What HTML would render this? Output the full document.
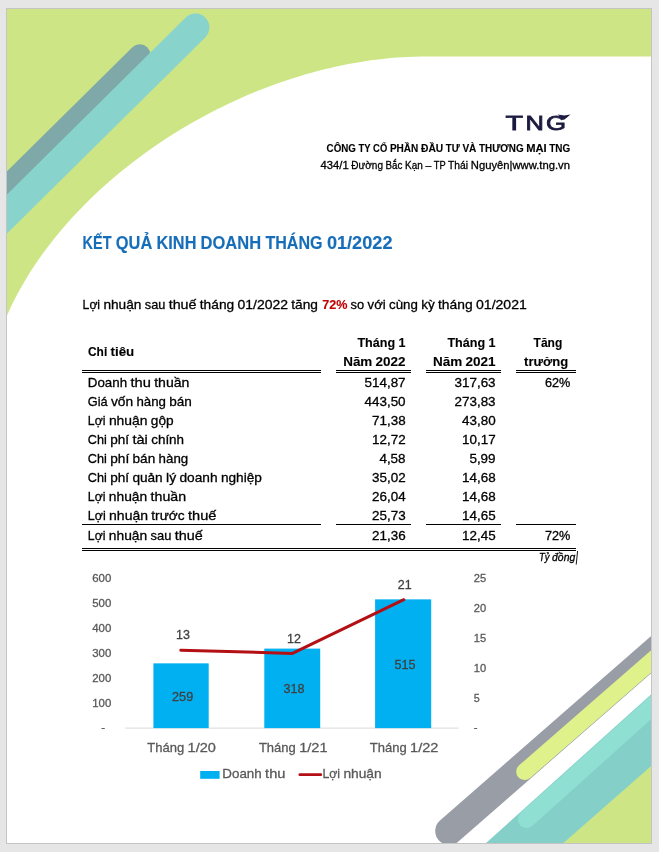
<!DOCTYPE html>
<html lang="vi"><head><meta charset="utf-8"><title>Kết quả kinh doanh tháng 01/2022</title>
<style>
html,body{margin:0;padding:0;background:#e6e6e6;}
body{width:659px;height:852px;overflow:hidden;}
svg{display:block;font-family:"Liberation Sans", sans-serif;}
text{white-space:pre;}
</style></head><body>
<svg width="659" height="852" viewBox="0 0 659 852">
<rect x="0" y="0" width="659" height="852" fill="#e6e6e6"/>
<rect x="6.5" y="8.5" width="645.0" height="835.0" fill="#fff"/>
<clipPath id="pg"><rect x="6.5" y="8.5" width="645.0" height="835.0"/></clipPath>
<g clip-path="url(#pg)">
<path d="M651.5,56.6 L426.5,56.6 L420.5,56.6 L414.5,56.7 L408.5,56.9 L402.5,57.2 L396.5,57.6 L390.5,58.1 L384.5,58.7 L378.5,59.4 L372.5,60.1 L366.5,61.0 L360.5,61.9 L354.5,62.9 L348.5,64.0 L342.5,65.2 L336.5,66.5 L330.5,67.9 L324.5,69.3 L318.5,70.8 L312.5,72.4 L306.5,74.1 L300.5,75.9 L294.5,77.8 L288.5,79.7 L282.5,81.7 L276.5,83.8 L270.5,86.0 L264.5,88.3 L258.5,90.6 L252.5,93.1 L246.5,95.6 L240.5,98.2 L234.5,101.0 L228.5,103.8 L222.5,106.7 L216.5,109.6 L210.5,112.7 L204.5,115.9 L198.5,119.2 L192.5,122.6 L186.5,126.0 L180.5,129.6 L174.5,133.3 L168.5,137.1 L162.5,141.0 L156.5,145.1 L150.5,149.2 L144.5,153.5 L138.5,157.9 L132.5,162.5 L126.5,167.2 L120.5,172.0 L114.5,177.1 L108.5,182.2 L102.5,187.6 L96.5,193.1 L90.5,198.8 L84.5,204.8 L78.5,210.9 L72.5,217.3 L66.5,224.0 L60.5,231.0 L54.5,238.3 L48.5,245.9 L42.5,254.0 L36.5,262.5 L30.5,271.6 L24.5,281.4 L18.5,292.0 L12.5,303.6 L6.5,316.6 L6.5,8.5 L651.5,8.5 Z" fill="#cde585"/>
<line x1="139.8" y1="54.7" x2="-144.5" y2="336.1" stroke="#7fa9a8" stroke-width="21" stroke-linecap="round"/>
<line x1="195.5" y1="27.5" x2="-88.8" y2="308.9" stroke="#88d3cb" stroke-width="27.8" stroke-linecap="round"/>
<line x1="449.2" y1="831.0" x2="750.4" y2="567.8" stroke="#999da6" stroke-width="28" stroke-linecap="round"/>
<line x1="524.6" y1="771.7" x2="750.7" y2="574.5" stroke="#dff18a" stroke-width="16.8" stroke-linecap="round"/>
<polygon points="651.5,693.9 485.5,843.5 651.5,843.5" fill="#84d0c8"/>
<line x1="526.6" y1="819.3" x2="749.6" y2="618.6" stroke="#8fe0d3" stroke-width="17.6" stroke-linecap="round"/>
<polygon points="651.5,765.8 562.9,843.5 651.5,843.5" fill="#cde585"/>
</g>
<rect x="6.5" y="8.5" width="645.0" height="835.0" fill="none" stroke="#c4c4c4" stroke-width="1"/>
<text y="129.7" font-size="20.6" fill="#1b1a40" stroke="#1b1a40" stroke-width="0.8"><tspan x="505.5" textLength="17.5" lengthAdjust="spacingAndGlyphs">T</tspan><tspan x="525.6" textLength="18.4" lengthAdjust="spacingAndGlyphs">N</tspan><tspan x="546.0" textLength="20.0" lengthAdjust="spacingAndGlyphs">G</tspan></text>
<polygon points="557.6,114.6 564.4,115.5 570.4,114.6 567,117.4 564.4,119.6 561.5,117.6" fill="#1b1a40"/>
<text y="151.6" font-size="11" font-weight="bold" fill="#000" stroke="#000" stroke-width="0.12"><tspan x="326.6" textLength="29.3" lengthAdjust="spacingAndGlyphs">CÔNG</tspan> <tspan x="358.6" textLength="11.9" lengthAdjust="spacingAndGlyphs">TY</tspan> <tspan x="373.1" textLength="14.1" lengthAdjust="spacingAndGlyphs">CỔ</tspan> <tspan x="389.9" textLength="28.4" lengthAdjust="spacingAndGlyphs">PHẦN</tspan> <tspan x="421.0" textLength="22.2" lengthAdjust="spacingAndGlyphs">ĐẦU</tspan> <tspan x="445.8" textLength="13.9" lengthAdjust="spacingAndGlyphs">TƯ</tspan> <tspan x="462.4" textLength="14.0" lengthAdjust="spacingAndGlyphs">VÀ</tspan> <tspan x="479.0" textLength="44.6" lengthAdjust="spacingAndGlyphs">THƯƠNG</tspan> <tspan x="526.2" textLength="20.5" lengthAdjust="spacingAndGlyphs">MẠI</tspan> <tspan x="549.3" textLength="21.0" lengthAdjust="spacingAndGlyphs">TNG</tspan></text>
<text y="168.6" font-size="11" fill="#000" stroke="#000" stroke-width="0.3"><tspan x="320.6" textLength="28.1" lengthAdjust="spacingAndGlyphs">434/1</tspan> <tspan x="351.3" textLength="31.7" lengthAdjust="spacingAndGlyphs">Đường</tspan> <tspan x="385.6" textLength="16.8" lengthAdjust="spacingAndGlyphs">Bắc</tspan> <tspan x="405.1" textLength="17.7" lengthAdjust="spacingAndGlyphs">Kạn</tspan> <tspan x="425.4" textLength="5.8" lengthAdjust="spacingAndGlyphs">–</tspan> <tspan x="433.8" textLength="11.7" lengthAdjust="spacingAndGlyphs">TP</tspan> <tspan x="448.1" textLength="20.0" lengthAdjust="spacingAndGlyphs">Thái</tspan> <tspan x="470.8" textLength="99.2" lengthAdjust="spacingAndGlyphs">Nguyên|www.tng.vn</tspan></text>
<text y="248.7" font-size="17.5" font-weight="bold" fill="#166db8" stroke="#166db8" stroke-width="0.12"><tspan x="82.6" textLength="28.9" lengthAdjust="spacingAndGlyphs">KẾT</tspan> <tspan x="115.8" textLength="36.5" lengthAdjust="spacingAndGlyphs">QUẢ</tspan> <tspan x="156.6" textLength="39.8" lengthAdjust="spacingAndGlyphs">KINH</tspan> <tspan x="200.6" textLength="60.5" lengthAdjust="spacingAndGlyphs">DOANH</tspan> <tspan x="265.4" textLength="57.2" lengthAdjust="spacingAndGlyphs">THÁNG</tspan> <tspan x="326.9" textLength="65.6" lengthAdjust="spacingAndGlyphs">01/2022</tspan></text>
<text y="308.6" font-size="13.7" fill="#000" stroke="#000" stroke-width="0.3"><tspan x="82.6" textLength="17.5" lengthAdjust="spacingAndGlyphs">Lợi</tspan> <tspan x="103.4" textLength="38.0" lengthAdjust="spacingAndGlyphs">nhuận</tspan> <tspan x="144.8" textLength="20.6" lengthAdjust="spacingAndGlyphs">sau</tspan> <tspan x="168.7" textLength="27.8" lengthAdjust="spacingAndGlyphs">thuế</tspan> <tspan x="199.8" textLength="34.4" lengthAdjust="spacingAndGlyphs">tháng</tspan> <tspan x="237.5" textLength="50.5" lengthAdjust="spacingAndGlyphs">01/2022</tspan> <tspan x="291.3" textLength="26.7" lengthAdjust="spacingAndGlyphs">tăng</tspan></text>
<text x="322.2" y="308.6" font-size="13.7" font-weight="bold" fill="#c00000" stroke="#c00000" stroke-width="0.12" textLength="25.2" lengthAdjust="spacingAndGlyphs">72%</text>
<text y="308.6" font-size="13.7" fill="#000" stroke="#000" stroke-width="0.3"><tspan x="350.6" textLength="13.6" lengthAdjust="spacingAndGlyphs">so</tspan> <tspan x="367.6" textLength="18.1" lengthAdjust="spacingAndGlyphs">với</tspan> <tspan x="389.0" textLength="28.8" lengthAdjust="spacingAndGlyphs">cùng</tspan> <tspan x="421.2" textLength="13.5" lengthAdjust="spacingAndGlyphs">kỳ</tspan> <tspan x="438.0" textLength="34.6" lengthAdjust="spacingAndGlyphs">tháng</tspan> <tspan x="476.0" textLength="50.8" lengthAdjust="spacingAndGlyphs">01/2021</tspan></text>
<text y="356.2" font-size="13.5" font-weight="bold" fill="#000" stroke="#000" stroke-width="0.12"><tspan x="88.0" textLength="19.2" lengthAdjust="spacingAndGlyphs">Chỉ</tspan> <tspan x="110.5" textLength="23.8" lengthAdjust="spacingAndGlyphs">tiêu</tspan></text>
<text y="387.0" font-size="13.5" fill="#000" stroke="#000" stroke-width="0.3"><tspan x="87.8" textLength="39.3" lengthAdjust="spacingAndGlyphs">Doanh</tspan> <tspan x="130.5" textLength="20.4" lengthAdjust="spacingAndGlyphs">thu</tspan> <tspan x="154.2" textLength="35.2" lengthAdjust="spacingAndGlyphs">thuần</tspan></text>
<text x="364.5" y="387.0" font-size="12.9" fill="#000" stroke="#000" stroke-width="0.3" textLength="41.1" lengthAdjust="spacingAndGlyphs">514,87</text>
<text x="454.5" y="387.0" font-size="12.9" fill="#000" stroke="#000" stroke-width="0.3" textLength="41.1" lengthAdjust="spacingAndGlyphs">317,63</text>
<text x="545.0" y="387.0" font-size="12.9" fill="#000" stroke="#000" stroke-width="0.3" textLength="25.4" lengthAdjust="spacingAndGlyphs">62%</text>
<text y="406.0" font-size="13.5" fill="#000" stroke="#000" stroke-width="0.3"><tspan x="87.8" textLength="19.8" lengthAdjust="spacingAndGlyphs">Giá</tspan> <tspan x="110.9" textLength="22.2" lengthAdjust="spacingAndGlyphs">vốn</tspan> <tspan x="136.4" textLength="29.5" lengthAdjust="spacingAndGlyphs">hàng</tspan> <tspan x="169.2" textLength="22.6" lengthAdjust="spacingAndGlyphs">bán</tspan></text>
<text x="364.5" y="406.0" font-size="12.9" fill="#000" stroke="#000" stroke-width="0.3" textLength="41.1" lengthAdjust="spacingAndGlyphs">443,50</text>
<text x="454.5" y="406.0" font-size="12.9" fill="#000" stroke="#000" stroke-width="0.3" textLength="41.1" lengthAdjust="spacingAndGlyphs">273,83</text>
<text y="424.9" font-size="13.5" fill="#000" stroke="#000" stroke-width="0.3"><tspan x="87.8" textLength="17.7" lengthAdjust="spacingAndGlyphs">Lợi</tspan> <tspan x="108.9" textLength="38.6" lengthAdjust="spacingAndGlyphs">nhuận</tspan> <tspan x="150.8" textLength="22.8" lengthAdjust="spacingAndGlyphs">gộp</tspan></text>
<text x="372.0" y="424.9" font-size="12.9" fill="#000" stroke="#000" stroke-width="0.3" textLength="33.6" lengthAdjust="spacingAndGlyphs">71,38</text>
<text x="462.0" y="424.9" font-size="12.9" fill="#000" stroke="#000" stroke-width="0.3" textLength="33.6" lengthAdjust="spacingAndGlyphs">43,80</text>
<text y="443.9" font-size="13.5" fill="#000" stroke="#000" stroke-width="0.3"><tspan x="87.8" textLength="19.0" lengthAdjust="spacingAndGlyphs">Chi</tspan> <tspan x="110.2" textLength="18.9" lengthAdjust="spacingAndGlyphs">phí</tspan> <tspan x="132.4" textLength="15.4" lengthAdjust="spacingAndGlyphs">tài</tspan> <tspan x="151.2" textLength="32.9" lengthAdjust="spacingAndGlyphs">chính</tspan></text>
<text x="372.0" y="443.9" font-size="12.9" fill="#000" stroke="#000" stroke-width="0.3" textLength="33.6" lengthAdjust="spacingAndGlyphs">12,72</text>
<text x="462.0" y="443.9" font-size="12.9" fill="#000" stroke="#000" stroke-width="0.3" textLength="33.6" lengthAdjust="spacingAndGlyphs">10,17</text>
<text y="462.8" font-size="13.5" fill="#000" stroke="#000" stroke-width="0.3"><tspan x="87.8" textLength="19.1" lengthAdjust="spacingAndGlyphs">Chi</tspan> <tspan x="110.2" textLength="19.0" lengthAdjust="spacingAndGlyphs">phí</tspan> <tspan x="132.5" textLength="22.7" lengthAdjust="spacingAndGlyphs">bán</tspan> <tspan x="158.6" textLength="29.6" lengthAdjust="spacingAndGlyphs">hàng</tspan></text>
<text x="379.4" y="462.8" font-size="12.9" fill="#000" stroke="#000" stroke-width="0.3" textLength="26.2" lengthAdjust="spacingAndGlyphs">4,58</text>
<text x="469.4" y="462.8" font-size="12.9" fill="#000" stroke="#000" stroke-width="0.3" textLength="26.2" lengthAdjust="spacingAndGlyphs">5,99</text>
<text y="481.8" font-size="13.5" fill="#000" stroke="#000" stroke-width="0.3"><tspan x="87.8" textLength="19.0" lengthAdjust="spacingAndGlyphs">Chi</tspan> <tspan x="110.2" textLength="18.9" lengthAdjust="spacingAndGlyphs">phí</tspan> <tspan x="132.4" textLength="30.3" lengthAdjust="spacingAndGlyphs">quản</tspan> <tspan x="166.1" textLength="10.1" lengthAdjust="spacingAndGlyphs">lý</tspan> <tspan x="179.5" textLength="38.1" lengthAdjust="spacingAndGlyphs">doanh</tspan> <tspan x="220.9" textLength="41.0" lengthAdjust="spacingAndGlyphs">nghiệp</tspan></text>
<text x="372.0" y="481.8" font-size="12.9" fill="#000" stroke="#000" stroke-width="0.3" textLength="33.6" lengthAdjust="spacingAndGlyphs">35,02</text>
<text x="462.0" y="481.8" font-size="12.9" fill="#000" stroke="#000" stroke-width="0.3" textLength="33.6" lengthAdjust="spacingAndGlyphs">14,68</text>
<text y="500.8" font-size="13.5" fill="#000" stroke="#000" stroke-width="0.3"><tspan x="87.8" textLength="17.7" lengthAdjust="spacingAndGlyphs">Lợi</tspan> <tspan x="108.8" textLength="38.4" lengthAdjust="spacingAndGlyphs">nhuận</tspan> <tspan x="150.6" textLength="35.5" lengthAdjust="spacingAndGlyphs">thuần</tspan></text>
<text x="372.0" y="500.8" font-size="12.9" fill="#000" stroke="#000" stroke-width="0.3" textLength="33.6" lengthAdjust="spacingAndGlyphs">26,04</text>
<text x="462.0" y="500.8" font-size="12.9" fill="#000" stroke="#000" stroke-width="0.3" textLength="33.6" lengthAdjust="spacingAndGlyphs">14,68</text>
<text y="519.7" font-size="13.5" fill="#000" stroke="#000" stroke-width="0.3"><tspan x="87.8" textLength="17.9" lengthAdjust="spacingAndGlyphs">Lợi</tspan> <tspan x="109.1" textLength="38.9" lengthAdjust="spacingAndGlyphs">nhuận</tspan> <tspan x="151.3" textLength="33.3" lengthAdjust="spacingAndGlyphs">trước</tspan> <tspan x="188.0" textLength="28.4" lengthAdjust="spacingAndGlyphs">thuế</tspan></text>
<text x="372.0" y="519.7" font-size="12.9" fill="#000" stroke="#000" stroke-width="0.3" textLength="33.6" lengthAdjust="spacingAndGlyphs">25,73</text>
<text x="462.0" y="519.7" font-size="12.9" fill="#000" stroke="#000" stroke-width="0.3" textLength="33.6" lengthAdjust="spacingAndGlyphs">14,65</text>
<text y="539.5" font-size="13.5" fill="#000" stroke="#000" stroke-width="0.3"><tspan x="87.8" textLength="17.7" lengthAdjust="spacingAndGlyphs">Lợi</tspan> <tspan x="108.8" textLength="38.4" lengthAdjust="spacingAndGlyphs">nhuận</tspan> <tspan x="150.6" textLength="20.8" lengthAdjust="spacingAndGlyphs">sau</tspan> <tspan x="174.8" textLength="28.0" lengthAdjust="spacingAndGlyphs">thuế</tspan></text>
<text x="372.0" y="539.5" font-size="12.9" fill="#000" stroke="#000" stroke-width="0.3" textLength="33.6" lengthAdjust="spacingAndGlyphs">21,36</text>
<text x="462.0" y="539.5" font-size="12.9" fill="#000" stroke="#000" stroke-width="0.3" textLength="33.6" lengthAdjust="spacingAndGlyphs">12,45</text>
<text x="545.0" y="539.5" font-size="12.9" fill="#000" stroke="#000" stroke-width="0.3" textLength="25.4" lengthAdjust="spacingAndGlyphs">72%</text>
<text x="357.4" y="346.6" font-size="13.5" font-weight="bold" fill="#000" stroke="#000" stroke-width="0.12" textLength="48.2" lengthAdjust="spacingAndGlyphs">Tháng 1</text>
<text y="365.7" font-size="13.5" font-weight="bold" fill="#000" stroke="#000" stroke-width="0.12"><tspan x="343.2" textLength="29.1" lengthAdjust="spacingAndGlyphs">Năm</tspan> <tspan x="375.6" textLength="30.0" lengthAdjust="spacingAndGlyphs">2022</tspan></text>
<text x="447.4" y="346.6" font-size="13.5" font-weight="bold" fill="#000" stroke="#000" stroke-width="0.12" textLength="48.2" lengthAdjust="spacingAndGlyphs">Tháng 1</text>
<text y="365.7" font-size="13.5" font-weight="bold" fill="#000" stroke="#000" stroke-width="0.12"><tspan x="433.0" textLength="29.2" lengthAdjust="spacingAndGlyphs">Năm</tspan> <tspan x="465.5" textLength="30.1" lengthAdjust="spacingAndGlyphs">2021</tspan></text>
<text x="533.6" y="346.6" font-size="13.5" font-weight="bold" fill="#000" stroke="#000" stroke-width="0.12" textLength="28.7" lengthAdjust="spacingAndGlyphs">Tăng</text>
<text x="524.1" y="365.7" font-size="13.5" font-weight="bold" fill="#000" stroke="#000" stroke-width="0.12" textLength="44.1" lengthAdjust="spacingAndGlyphs">trưởng</text>
<text y="561.2" font-size="10.2" font-style="italic" fill="#000" stroke="#000" stroke-width="0.3"><tspan x="539.0" textLength="10.5" lengthAdjust="spacingAndGlyphs">Tỷ</tspan> <tspan x="552.1" textLength="23.1" lengthAdjust="spacingAndGlyphs">đồng</tspan></text>
<line x1="577.6" y1="551" x2="576.2" y2="564.6" stroke="#000" stroke-width="0.9"/>
<rect x="82" y="370" width="239" height="1" fill="#000"/>
<rect x="82" y="372" width="239" height="1" fill="#000"/>
<rect x="82" y="524" width="239" height="1" fill="#000"/>
<rect x="336" y="370" width="75" height="1" fill="#000"/>
<rect x="336" y="372" width="75" height="1" fill="#000"/>
<rect x="336" y="524" width="75" height="1" fill="#000"/>
<rect x="426" y="370" width="75" height="1" fill="#000"/>
<rect x="426" y="372" width="75" height="1" fill="#000"/>
<rect x="426" y="524" width="75" height="1" fill="#000"/>
<rect x="516" y="370" width="60" height="1" fill="#000"/>
<rect x="516" y="372" width="60" height="1" fill="#000"/>
<rect x="516" y="524" width="60" height="1" fill="#000"/>
<rect x="82" y="548" width="494" height="1" fill="#000"/>
<rect x="82" y="550" width="494" height="1" fill="#000"/>
<line x1="125.2" y1="728.1" x2="458.6" y2="728.1" stroke="#d9d9d9" stroke-width="1"/>
<rect x="153.4" y="663.35" width="55.3" height="64.75" fill="#00b0f0"/>
<rect x="264.3" y="648.60" width="55.9" height="79.50" fill="#00b0f0"/>
<rect x="375.1" y="599.35" width="56.1" height="128.75" fill="#00b0f0"/>
<text x="92.2" y="582.4" font-size="11.5" fill="#595959" stroke="#595959" stroke-width="0.3" textLength="19.1" lengthAdjust="spacingAndGlyphs">600</text>
<text x="92.2" y="607.4" font-size="11.5" fill="#595959" stroke="#595959" stroke-width="0.3" textLength="19.1" lengthAdjust="spacingAndGlyphs">500</text>
<text x="92.2" y="632.4" font-size="11.5" fill="#595959" stroke="#595959" stroke-width="0.3" textLength="19.1" lengthAdjust="spacingAndGlyphs">400</text>
<text x="92.2" y="657.4" font-size="11.5" fill="#595959" stroke="#595959" stroke-width="0.3" textLength="19.1" lengthAdjust="spacingAndGlyphs">300</text>
<text x="92.2" y="682.4" font-size="11.5" fill="#595959" stroke="#595959" stroke-width="0.3" textLength="19.1" lengthAdjust="spacingAndGlyphs">200</text>
<text x="92.2" y="707.4" font-size="11.5" fill="#595959" stroke="#595959" stroke-width="0.3" textLength="19.1" lengthAdjust="spacingAndGlyphs">100</text>
<text x="101.2" y="731.4" font-size="11.5" fill="#595959" stroke="#595959" stroke-width="0.3" textLength="3.8" lengthAdjust="spacingAndGlyphs">-</text>
<text x="473.7" y="582.2" font-size="11.5" fill="#595959" stroke="#595959" stroke-width="0.3" textLength="12.4" lengthAdjust="spacingAndGlyphs">25</text>
<text x="473.7" y="612.2" font-size="11.5" fill="#595959" stroke="#595959" stroke-width="0.3" textLength="12.4" lengthAdjust="spacingAndGlyphs">20</text>
<text x="473.7" y="642.2" font-size="11.5" fill="#595959" stroke="#595959" stroke-width="0.3" textLength="12.4" lengthAdjust="spacingAndGlyphs">15</text>
<text x="473.7" y="672.2" font-size="11.5" fill="#595959" stroke="#595959" stroke-width="0.3" textLength="12.4" lengthAdjust="spacingAndGlyphs">10</text>
<text x="473.7" y="702.2" font-size="11.5" fill="#595959" stroke="#595959" stroke-width="0.3" textLength="6.0" lengthAdjust="spacingAndGlyphs">5</text>
<text x="473.7" y="731.4" font-size="11.5" fill="#595959" stroke="#595959" stroke-width="0.3" textLength="3.8" lengthAdjust="spacingAndGlyphs">-</text>
<polyline points="180.8,650.2 292.4,653.4 403.8,599.7" fill="none" stroke="#b40f14" stroke-width="3" stroke-linecap="round" stroke-linejoin="round"/>
<text x="176.1" y="639.2" font-size="13" fill="#404040" stroke="#404040" stroke-width="0.3" textLength="13.9" lengthAdjust="spacingAndGlyphs">13</text>
<text x="287.1" y="642.6" font-size="13" fill="#404040" stroke="#404040" stroke-width="0.3" textLength="13.9" lengthAdjust="spacingAndGlyphs">12</text>
<text x="397.7" y="588.8" font-size="13" fill="#404040" stroke="#404040" stroke-width="0.3" textLength="13.9" lengthAdjust="spacingAndGlyphs">21</text>
<text x="172.1" y="701.4" font-size="13" fill="#404040" stroke="#404040" stroke-width="0.3" textLength="21.1" lengthAdjust="spacingAndGlyphs">259</text>
<text x="283.5" y="693.2" font-size="13" fill="#404040" stroke="#404040" stroke-width="0.3" textLength="21.0" lengthAdjust="spacingAndGlyphs">318</text>
<text x="394.5" y="669.2" font-size="13" fill="#404040" stroke="#404040" stroke-width="0.3" textLength="21.0" lengthAdjust="spacingAndGlyphs">515</text>
<text y="751.9" font-size="13.6" fill="#595959" stroke="#595959" stroke-width="0.3"><tspan x="147.3" textLength="36.9" lengthAdjust="spacingAndGlyphs">Tháng</tspan> <tspan x="187.6" textLength="28.3" lengthAdjust="spacingAndGlyphs">1/20</tspan></text>
<text y="751.9" font-size="13.6" fill="#595959" stroke="#595959" stroke-width="0.3"><tspan x="258.9" textLength="36.9" lengthAdjust="spacingAndGlyphs">Tháng</tspan> <tspan x="299.2" textLength="28.3" lengthAdjust="spacingAndGlyphs">1/21</tspan></text>
<text y="751.9" font-size="13.6" fill="#595959" stroke="#595959" stroke-width="0.3"><tspan x="369.8" textLength="36.9" lengthAdjust="spacingAndGlyphs">Tháng</tspan> <tspan x="410.1" textLength="28.3" lengthAdjust="spacingAndGlyphs">1/22</tspan></text>
<rect x="200.2" y="771" width="19.4" height="7.8" fill="#00b0f0"/>
<text y="778.4" font-size="13.6" fill="#595959" stroke="#595959" stroke-width="0.3"><tspan x="222.3" textLength="39.4" lengthAdjust="spacingAndGlyphs">Doanh</tspan> <tspan x="265.1" textLength="20.4" lengthAdjust="spacingAndGlyphs">thu</tspan></text>
<line x1="299.8" y1="774.7" x2="320.8" y2="774.7" stroke="#b40f14" stroke-width="2.7" stroke-linecap="round"/>
<text y="778.4" font-size="13.6" fill="#595959" stroke="#595959" stroke-width="0.3"><tspan x="322.4" textLength="17.6" lengthAdjust="spacingAndGlyphs">Lợi</tspan> <tspan x="343.4" textLength="38.3" lengthAdjust="spacingAndGlyphs">nhuận</tspan></text>
</svg>
</body></html>
